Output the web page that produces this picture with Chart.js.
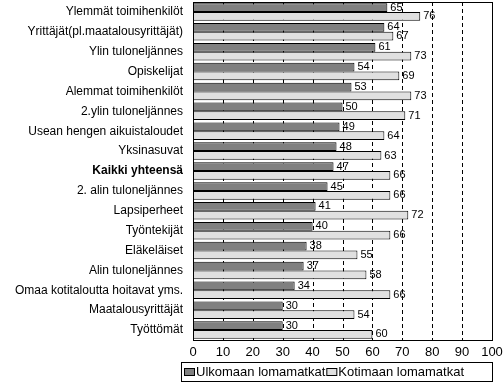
<!DOCTYPE html>
<html><head><meta charset="utf-8">
<script src="https://cdn.jsdelivr.net/npm/chart.js@4.4.0/dist/chart.umd.min.js"></script>
<style>html,body{margin:0;padding:0;background:#fff;overflow:hidden}canvas{display:block}</style>
</head><body>
<canvas id="c" width="503" height="383"></canvas>
<script>
const categories = ["Ylemmät toimihenkilöt","Yrittäjät(pl.maatalousyrittäjät)","Ylin tuloneljännes","Opiskelijat","Alemmat toimihenkilöt","2.ylin tuloneljännes","Usean hengen aikuistaloudet","Yksinasuvat","Kaikki yhteensä","2. alin tuloneljännes","Lapsiperheet","Työntekijät","Eläkeläiset","Alin tuloneljännes","Omaa kotitaloutta hoitavat yms.","Maatalousyrittäjät","Työttömät"];
const ulkomaan = [65,64,61,54,53,50,49,48,47,45,41,40,38,37,34,30,30];
const kotimaan = [76,67,73,69,73,71,64,63,66,66,72,66,55,58,66,54,60];
const seriesNames = ["Ulkomaan lomamatkat","Kotimaan lomamatkat"];
const xTicks = [0,10,20,30,40,50,60,70,80,90,100];
const FONT = "'Liberation Sans', Arial, sans-serif";

const framePlugin = {
  id:'frame',
  beforeDatasetsDraw(chart){
    const {ctx, scales:{x,y}} = chart;
    ctx.save();
    ctx.fillStyle="#000";
    for (const v of xTicks) {
      if (v===0||v===100) continue;
      const px = Math.round(x.getPixelForValue(v));
      for (let yy = Math.round(y.top); yy < y.bottom; yy += 7) {
        ctx.fillRect(px, yy, 1, Math.min(4, y.bottom - yy));
      }
    }
    ctx.restore();
  },
  afterDatasetsDraw(chart){
    const {ctx} = chart;
    ctx.save();
    ctx.fillStyle="#000";
    ctx.font = "11px " + FONT;
    ctx.textAlign = "left";
    ctx.textBaseline = "middle";
    chart.data.datasets.forEach((ds,di)=>{
      chart.getDatasetMeta(di).data.forEach((el,i)=>{
        ctx.fillText(String(ds.data[i]), el.x + 3, el.y);
      });
    });
    ctx.restore();
  },
  afterDraw(chart){
    const {ctx, chartArea:a} = chart;
    ctx.save();
    ctx.setLineDash([]);
    ctx.strokeStyle = "#000"; ctx.lineWidth = 1;
    ctx.strokeRect(Math.round(a.left)+0.5, Math.round(a.top)+0.5, Math.round(a.right-a.left), Math.round(a.bottom-a.top));
    ctx.font = "13px " + FONT;
    const bx = 181, by = 362, bw = 311, bh = 19;
    ctx.strokeRect(bx+0.5, by+0.5, bw, bh);
    const cols = ["#808080","#e0e0e0"];
    let x = bx + 3;
    ctx.textBaseline = "middle";
    seriesNames.forEach((n,i)=>{
      ctx.fillStyle = cols[i];
      ctx.fillRect(x+0.5, by+6.5, 10, 7);
      ctx.strokeRect(x+0.5, by+6.5, 10, 7);
      ctx.fillStyle = "#000";
      ctx.fillText(n, x+12, by+10.5);
      x += 12 + ctx.measureText(n).width + 1;
    });
    ctx.restore();
  }
};

new Chart(document.getElementById('c'), {
  type:'bar',
  data:{
    labels: categories,
    datasets:[
      {label:seriesNames[0], data:ulkomaan, backgroundColor:"#808080", borderColor:"#000", borderWidth:1, barPercentage:1, categoryPercentage:0.88},
      {label:seriesNames[1], data:kotimaan, backgroundColor:"#e0e0e0", borderColor:"#000", borderWidth:1, barPercentage:1, categoryPercentage:0.88}
    ]
  },
  options:{
    indexAxis:'y',
    responsive:false,
    animation:false,
    layout:{padding:{top:2,right:11,bottom:22,left:0}},
    plugins:{legend:{display:false},tooltip:{enabled:false}},
    scales:{
      x:{
        min:0,max:100,
        afterBuildTicks(s){ s.ticks = xTicks.map(v=>({value:v})); },
        grid:{display:false, drawTicks:false},
        border:{display:true, color:"#000", width:1},
        ticks:{font:{family:FONT,size:13},color:"#000",padding:5},
        afterFit(s){ s.height = 21; s.paddingLeft = 0; s.paddingRight = 0; }
      },
      y:{
        grid:{display:false, drawTicks:false},
        border:{display:true, color:"#000", width:1},
        ticks:{
          color:"#000", padding:10, autoSkip:false,
          font(ctx){ return {family:FONT,size:12,weight: ctx.index===8 ? 'bold' : 'normal'}; }
        },
        afterFit(s){ s.width = 193; s.paddingTop = 0; s.paddingBottom = 0; }
      }
    }
  },
  plugins:[framePlugin]
});
</script>
</body></html>
